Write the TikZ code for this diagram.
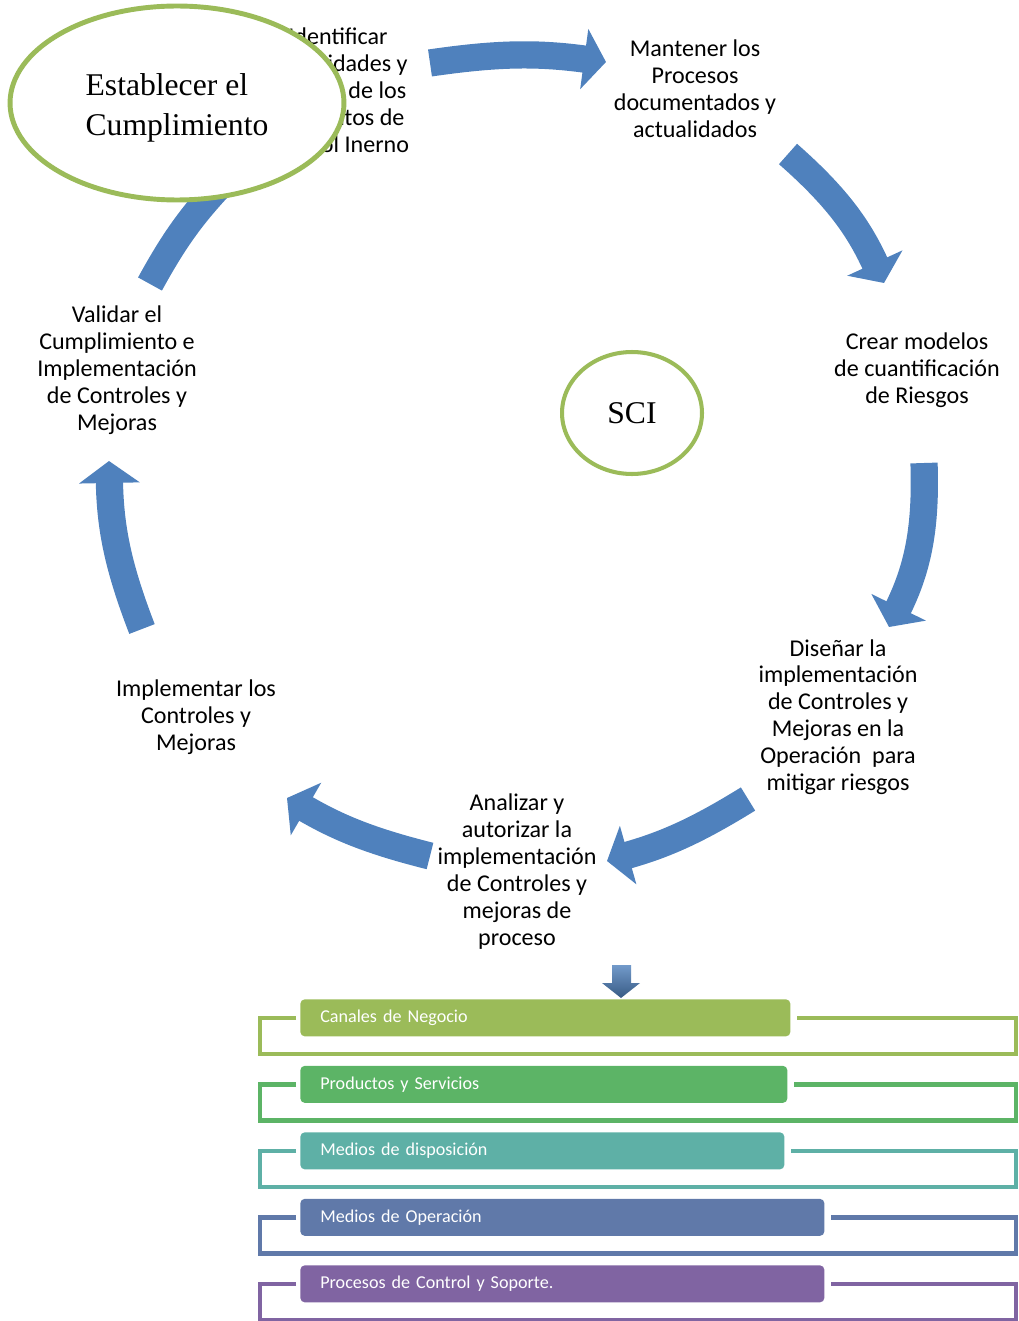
\documentclass[tikz,border=0pt]{standalone}
\usepackage{fontspec}
\setmainfont{Carlito}
\newfontfamily\romanfont{Liberation Serif}
\usetikzlibrary{arrows.meta,shapes.geometric}
\definecolor{cblue}{RGB}{79,129,189}
\definecolor{cgreen}{RGB}{155,187,89}
\definecolor{cnegocio}{RGB}{155,187,89}
\definecolor{cproductos}{RGB}{92,180,102}
\definecolor{cdisposicion}{RGB}{94,176,166}
\definecolor{coperacion}{RGB}{96,121,169}
\definecolor{ccontrol}{RGB}{128,100,162}

\begin{document}
\begin{tikzpicture}[x=0.02cm,y=-0.02cm,
  flow/.style={draw=cblue,line width=15.5pt,-{Triangle[length=12.5pt,width=34pt]}},
  band/.style={draw=cblue,line width=15.5pt},
  text node/.style={align=center,font=\fontsize{13.7}{15.3}\selectfont},
  circ node/.style={ellipse,draw=cgreen,fill=white,inner sep=0pt,
    font=\romanfont\fontsize{18}{23.2}\selectfont},
  list box/.style={anchor=north west,rounded corners=2.5pt,inner xsep=0.4cm,
    minimum height=0.74cm,align=left,text=white,font=\fontsize{10.3}{12.5}\selectfont}]
  \useasboundingbox (0,0) rectangle (1018,1321);

  % cycle steps
  \node[text node] (ident) at (338,90) {Identificar\\Necesidades y\\Riesgos de los\\Elementos de\\Control Inerno};
  \node[text node] (mant) at (695,89) {Mantener los\\Procesos\\documentados y\\actualidados};
  \node[text node] (crear) at (917,370) {Crear modelos\\de cuantificación\\de Riesgos};
  \node[text node] (disen) at (838,717) {Diseñar la\\implementación\\de Controles y\\Mejoras en la\\Operación\ \ para\\mitigar riesgos};
  \node[text node] (anal) at (517,871.5) {Analizar y\\autorizar la\\implementación\\de Controles y\\mejoras de\\proceso};
  \node[text node] (impl) at (196,717) {Implementar los\\Controles y\\Mejoras};
  \node[text node] (valid) at (117,370) {Validar el\\Cumplimiento e\\Implementación\\de Controles y\\Mejoras};

  % arrow ends
  \coordinate (a1s) at (430,63);  \coordinate (a1e) at (606,62);
  \coordinate (a2s) at (788,154); \coordinate (a2e) at (884,283);
  \coordinate (a3s) at (924,463); \coordinate (a3e) at (889,627);
  \coordinate (a4s) at (748,799); \coordinate (a4e) at (607,861);
  \coordinate (a5s) at (430,856); \coordinate (a5e) at (287,798);
  \coordinate (a6s) at (142,629); \coordinate (a6e) at (109,461);
  \coordinate (a7s) at (150,284); \coordinate (a7e) at (235,170);

  \draw[flow] (a1s) to[bend left=8] (a1e);
  \draw[flow] (a2s) to[bend left=12] (a2e);
  \draw[flow] (a3s) to[bend left=14] (a3e);
  \draw[flow] (a4s) to[bend left=8] (a4e);
  \draw[flow] (a5s) to[bend left=8] (a5e);
  \draw[flow] (a6s) to[bend left=10] (a6e);
  \draw[band] (a7s) to[bend left=8] (a7e);

  \node[circ node,line width=2.8pt,minimum width=6.68cm,minimum height=3.88cm,align=left]
    (estab) at (177,103) {\rule{0pt}{18pt}Establecer el\\Cumplimiento};
  \node[circ node,line width=2.3pt,minimum width=2.8cm,minimum height=2.44cm]
    (sci) at (632,413) {SCI};

  % down arrow to the list
  \shade[top color=cblue!80!white,bottom color=cblue!70!black]
    (612,965) -- (631,965) -- (631,983) -- (640,983) -- (621,998) -- (602,983) -- (612,983) -- cycle;

  % list of areas
  \foreach \txt/\col/\bw [count=\idx] in {Canales de Negocio/cnegocio/490,
      Productos y Servicios/cproductos/487,
      Medios de disposición/cdisposicion/484,
      Medios de Operación/coperacion/524,
      Procesos de Control y Soporte./ccontrol/524} {
    \pgfmathsetmacro\ytop{999+66.5*(\idx-1)}
    \pgfmathsetmacro\yf{\ytop+19}
    \pgfmathsetmacro\yb{\ytop+55}
    \pgfmathsetmacro\xr{300+\bw+7}
    \pgfmathsetmacro\tw{(\bw-40)*0.02}
    \draw[draw=\col,line width=2.4pt] (296,\yf) -- (260,\yf) -- (260,\yb)
      -- (1016,\yb) -- (1016,\yf) -- (\xr,\yf);
    \node[list box,fill=\col,text width=\tw cm] (box\idx) at (300,\ytop) {\txt};
  }
\end{tikzpicture}
\end{document}
